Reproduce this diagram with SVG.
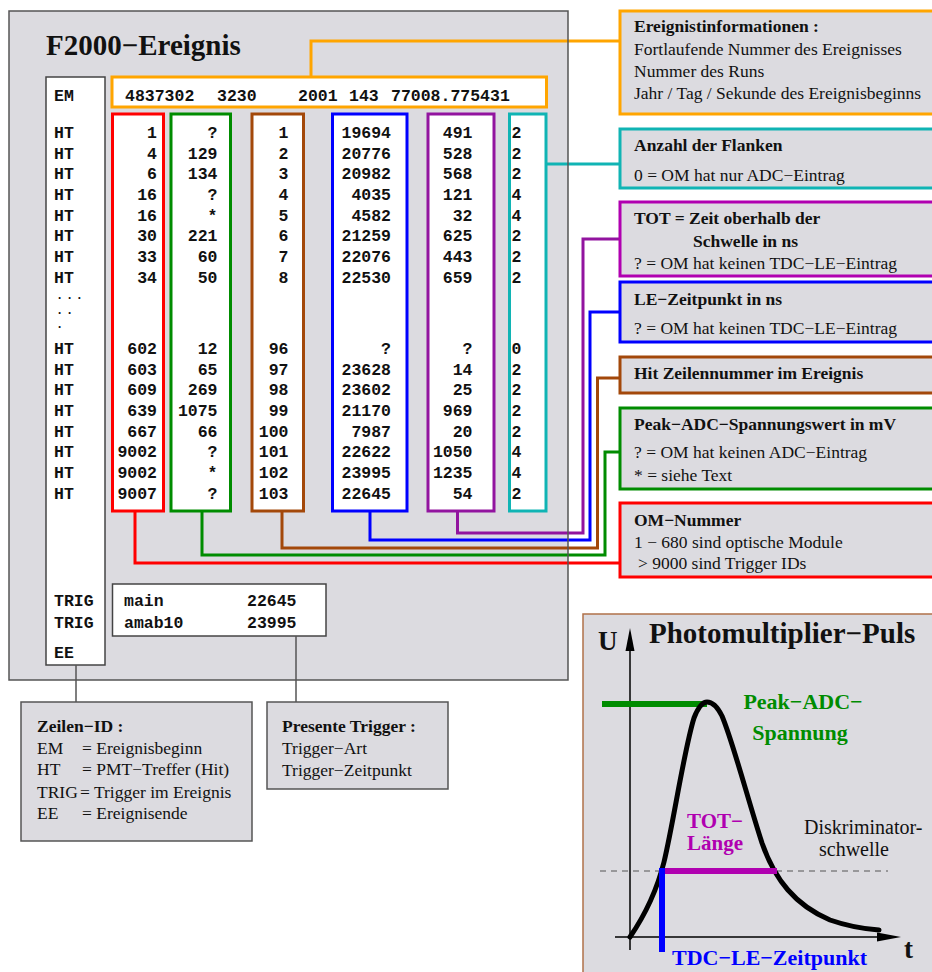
<svg xmlns="http://www.w3.org/2000/svg" width="932" height="972" viewBox="0 0 932 972">
<style>
.mono{font-family:"Liberation Mono","DejaVu Sans Mono",monospace;font-weight:bold;font-size:16.5px;fill:#111}
.dots{font-size:12px;letter-spacing:2.7px}
.serif{font-family:"Liberation Serif","Times New Roman",serif;font-size:17.5px;fill:#111}
.b{font-weight:bold}
.gray{fill:#dcdbe0}
.conn{fill:none;stroke-width:3;stroke-linejoin:miter}
.col{fill:#fff;stroke-width:3}
.info{fill:#dcdbe0;stroke-width:3}
.end{text-anchor:end}
.mid{text-anchor:middle}
</style>
<rect x="0" y="0" width="932" height="972" fill="#fff"/>

<!-- main panel -->
<g id="panel">
<rect class="gray" x="9" y="11" width="559" height="669"/>
<text class="serif b" x="46" y="55" style="font-size:29px">F2000−Ereignis</text>
</g>

<g id="row-ids">
<rect x="46" y="77" width="59" height="588" fill="#fff" stroke="#444" stroke-width="1.5"/>
<text class="mono"><tspan x="54" y="100.5">EM</tspan><tspan x="54" y="137.8">HT</tspan><tspan x="54" y="158.5">HT</tspan><tspan x="54" y="179.2">HT</tspan><tspan x="54" y="200">HT</tspan><tspan x="54" y="220.7">HT</tspan><tspan x="54" y="241.4">HT</tspan><tspan x="54" y="262.1">HT</tspan><tspan x="54" y="282.8">HT</tspan><tspan x="54" y="353.8">HT</tspan><tspan x="54" y="374.5">HT</tspan><tspan x="54" y="395.2">HT</tspan><tspan x="54" y="415.9">HT</tspan><tspan x="54" y="436.6">HT</tspan><tspan x="54" y="457.3">HT</tspan><tspan x="54" y="478">HT</tspan><tspan x="54" y="498.7">HT</tspan><tspan x="54" y="605.5">TRIG</tspan><tspan x="54" y="627.5">TRIG</tspan><tspan x="54" y="657.5">EE</tspan></text>
<text class="mono dots" x="56" y="298.5">...</text>
<text class="mono dots" x="56" y="313.5">..</text>
<text class="mono dots" x="56" y="328">.</text>
</g>

<g id="em-data">
<rect x="112" y="77" width="434.5" height="30" fill="#fff" stroke="#ffa500" stroke-width="3"/>
<text class="mono"><tspan x="125" y="100.5">4837302</tspan><tspan x="217" y="100.5">3230</tspan><tspan x="298" y="100.5">2001</tspan><tspan x="349" y="100.5">143</tspan><tspan x="391" y="100.5">77008.775431</tspan></text>
</g>

<g id="col-om">
<rect class="col" x="112.5" y="114" width="51" height="397" stroke="#ff0000"/>
<text class="mono end"><tspan x="157" y="137.8">1</tspan><tspan x="157" y="158.5">4</tspan><tspan x="157" y="179.2">6</tspan><tspan x="157" y="200">16</tspan><tspan x="157" y="220.7">16</tspan><tspan x="157" y="241.4">30</tspan><tspan x="157" y="262.1">33</tspan><tspan x="157" y="282.8">34</tspan><tspan x="157" y="353.8">602</tspan><tspan x="157" y="374.5">603</tspan><tspan x="157" y="395.2">609</tspan><tspan x="157" y="415.9">639</tspan><tspan x="157" y="436.6">667</tspan><tspan x="157" y="457.3">9002</tspan><tspan x="157" y="478">9002</tspan><tspan x="157" y="498.7">9007</tspan></text>
</g>

<g id="col-adc">
<rect class="col" x="171" y="114" width="59.5" height="397" stroke="#008c00"/>
<text class="mono end"><tspan x="217.5" y="137.8">?</tspan><tspan x="217.5" y="158.5">129</tspan><tspan x="217.5" y="179.2">134</tspan><tspan x="217.5" y="200">?</tspan><tspan x="217.5" y="220.7">*</tspan><tspan x="217.5" y="241.4">221</tspan><tspan x="217.5" y="262.1">60</tspan><tspan x="217.5" y="282.8">50</tspan><tspan x="217.5" y="353.8">12</tspan><tspan x="217.5" y="374.5">65</tspan><tspan x="217.5" y="395.2">269</tspan><tspan x="217.5" y="415.9">1075</tspan><tspan x="217.5" y="436.6">66</tspan><tspan x="217.5" y="457.3">?</tspan><tspan x="217.5" y="478">*</tspan><tspan x="217.5" y="498.7">?</tspan></text>
</g>

<g id="col-hit">
<rect class="col" x="252" y="114" width="51.5" height="397" stroke="#a3480a"/>
<text class="mono end"><tspan x="288.5" y="137.8">1</tspan><tspan x="288.5" y="158.5">2</tspan><tspan x="288.5" y="179.2">3</tspan><tspan x="288.5" y="200">4</tspan><tspan x="288.5" y="220.7">5</tspan><tspan x="288.5" y="241.4">6</tspan><tspan x="288.5" y="262.1">7</tspan><tspan x="288.5" y="282.8">8</tspan><tspan x="288.5" y="353.8">96</tspan><tspan x="288.5" y="374.5">97</tspan><tspan x="288.5" y="395.2">98</tspan><tspan x="288.5" y="415.9">99</tspan><tspan x="288.5" y="436.6">100</tspan><tspan x="288.5" y="457.3">101</tspan><tspan x="288.5" y="478">102</tspan><tspan x="288.5" y="498.7">103</tspan></text>
</g>

<g id="col-le">
<rect class="col" x="332.5" y="114" width="74.5" height="397" stroke="#0000ff"/>
<text class="mono end"><tspan x="391" y="137.8">19694</tspan><tspan x="391" y="158.5">20776</tspan><tspan x="391" y="179.2">20982</tspan><tspan x="391" y="200">4035</tspan><tspan x="391" y="220.7">4582</tspan><tspan x="391" y="241.4">21259</tspan><tspan x="391" y="262.1">22076</tspan><tspan x="391" y="282.8">22530</tspan><tspan x="391" y="353.8">?</tspan><tspan x="391" y="374.5">23628</tspan><tspan x="391" y="395.2">23602</tspan><tspan x="391" y="415.9">21170</tspan><tspan x="391" y="436.6">7987</tspan><tspan x="391" y="457.3">22622</tspan><tspan x="391" y="478">23995</tspan><tspan x="391" y="498.7">22645</tspan></text>
</g>

<g id="col-tot">
<rect class="col" x="428" y="114" width="66" height="397" stroke="#92149f"/>
<text class="mono end"><tspan x="472.5" y="137.8">491</tspan><tspan x="472.5" y="158.5">528</tspan><tspan x="472.5" y="179.2">568</tspan><tspan x="472.5" y="200">121</tspan><tspan x="472.5" y="220.7">32</tspan><tspan x="472.5" y="241.4">625</tspan><tspan x="472.5" y="262.1">443</tspan><tspan x="472.5" y="282.8">659</tspan><tspan x="472.5" y="353.8">?</tspan><tspan x="472.5" y="374.5">14</tspan><tspan x="472.5" y="395.2">25</tspan><tspan x="472.5" y="415.9">969</tspan><tspan x="472.5" y="436.6">20</tspan><tspan x="472.5" y="457.3">1050</tspan><tspan x="472.5" y="478">1235</tspan><tspan x="472.5" y="498.7">54</tspan></text>
</g>

<g id="col-edges">
<rect class="col" x="509.5" y="114" width="36.5" height="397" stroke="#10b4b4"/>
<text class="mono"><tspan x="511.5" y="137.8">2</tspan><tspan x="511.5" y="158.5">2</tspan><tspan x="511.5" y="179.2">2</tspan><tspan x="511.5" y="200">4</tspan><tspan x="511.5" y="220.7">4</tspan><tspan x="511.5" y="241.4">2</tspan><tspan x="511.5" y="262.1">2</tspan><tspan x="511.5" y="282.8">2</tspan><tspan x="511.5" y="353.8">0</tspan><tspan x="511.5" y="374.5">2</tspan><tspan x="511.5" y="395.2">2</tspan><tspan x="511.5" y="415.9">2</tspan><tspan x="511.5" y="436.6">2</tspan><tspan x="511.5" y="457.3">4</tspan><tspan x="511.5" y="478">4</tspan><tspan x="511.5" y="498.7">2</tspan></text>
</g>

<g id="trigger-data">
<rect x="112.5" y="584" width="213.5" height="52" fill="#fff" stroke="#444" stroke-width="1.5"/>
<text class="mono"><tspan x="124" y="605.5">main</tspan><tspan x="247" y="605.5">22645</tspan><tspan x="124" y="627.5">amab10</tspan><tspan x="247" y="627.5">23995</tspan></text>
</g>

<!-- connectors -->
<g id="connectors">
<path class="conn" stroke="#ffa500" d="M311,77 V41 H619"/>
<path class="conn" stroke="#10b4b4" d="M546,164 H619"/>
<path class="conn" stroke="#92149f" d="M457.5,511 V533 H583 V239 H619"/>
<path class="conn" stroke="#0000ff" d="M370,511 V540 H590 V312 H619"/>
<path class="conn" stroke="#a3480a" d="M282,511 V548 H597.5 V378 H619"/>
<path class="conn" stroke="#008c00" d="M202,511 V555 H605 V452 H619"/>
<path class="conn" stroke="#ff0000" d="M135,511 V563 H619"/>
<path fill="none" stroke="#555" stroke-width="1.5" d="M76,665 V702 M296,636 V702"/>
</g>
<rect x="9" y="11" width="559" height="669" fill="none" stroke="#555" stroke-width="1.5"/>

<!-- info boxes -->
<g id="info-event">
<rect class="info" x="620" y="11" width="330" height="103" stroke="#ffa500"/>
<text class="serif b" x="634" y="32">Ereignistinformationen :</text>
<text class="serif"><tspan x="634" y="55">Fortlaufende Nummer des Ereignisses</tspan><tspan x="634" y="77">Nummer des Runs</tspan><tspan x="634" y="99">Jahr / Tag / Sekunde des Ereignisbeginns</tspan></text>
</g>
<g id="info-edges">
<rect class="info" x="620" y="129" width="330" height="59" stroke="#10b4b4"/>
<text class="serif b" x="634" y="151">Anzahl der Flanken</text>
<text class="serif" x="634" y="181">0 = OM hat nur ADC−Eintrag</text>
</g>
<g id="info-tot">
<rect class="info" x="620" y="202" width="330" height="74" stroke="#b000b0"/>
<text class="serif b"><tspan x="634" y="224">TOT = Zeit oberhalb der</tspan><tspan x="693" y="246.5">Schwelle in ns</tspan></text>
<text class="serif" x="634" y="268.5">? = OM hat keinen TDC−LE−Eintrag</text>
</g>
<g id="info-le">
<rect class="info" x="620" y="282" width="330" height="60" stroke="#0000ff"/>
<text class="serif b" x="634" y="305">LE−Zeitpunkt in ns</text>
<text class="serif" x="634" y="334">? = OM hat keinen TDC−LE−Eintrag</text>
</g>
<g id="info-hit">
<rect class="info" x="620" y="357" width="330" height="36" stroke="#a3480a"/>
<text class="serif b" x="634" y="379">Hit Zeilennummer im Ereignis</text>
</g>
<g id="info-adc">
<rect class="info" x="620" y="408" width="330" height="81" stroke="#008c00"/>
<text class="serif b" x="634" y="430">Peak−ADC−Spannungswert in mV</text>
<text class="serif"><tspan x="634" y="458">? = OM hat keinen ADC−Eintrag</tspan><tspan x="634" y="481">* = siehe Text</tspan></text>
</g>
<g id="info-om">
<rect class="info" x="620" y="503" width="330" height="74" stroke="#ff0000"/>
<text class="serif b" x="634" y="526">OM−Nummer</text>
<text class="serif"><tspan x="634" y="548">1 − 680 sind optische Module</tspan><tspan x="638" y="569">&gt; 9000 sind Trigger IDs</tspan></text>
</g>

<!-- legends -->
<g id="legend-ids">
<rect class="gray" x="21" y="702" width="231" height="139" stroke="#555" stroke-width="1.5"/>
<text class="serif b" x="37" y="732">Zeilen−ID :</text>
<text class="serif"><tspan x="37" y="754">EM</tspan><tspan x="82" y="754">= Ereignisbeginn</tspan><tspan x="37" y="775">HT</tspan><tspan x="82" y="775">= PMT−Treffer (Hit)</tspan><tspan x="37" y="798">TRIG</tspan><tspan x="80" y="798">= Trigger im Ereignis</tspan><tspan x="37" y="819">EE</tspan><tspan x="82" y="819">= Ereignisende</tspan></text>
</g>
<g id="legend-trigger">
<rect class="gray" x="267" y="702" width="181" height="87" stroke="#555" stroke-width="1.5"/>
<text class="serif b" x="282" y="732">Presente Trigger :</text>
<text class="serif"><tspan x="282" y="754">Trigger−Art</tspan><tspan x="282" y="776">Trigger−Zeitpunkt</tspan></text>
</g>

<!-- pulse diagram -->
<g id="pulse">
<rect class="gray" x="583" y="614" width="370" height="380" stroke="#b0714a" stroke-width="1.5"/>
<text class="serif b" x="649" y="643" style="font-size:29px">Photomultiplier−Puls</text>
<text class="serif b" x="598" y="650" style="font-size:27px">U</text>
<text class="serif b" x="904" y="958" style="font-size:27px">t</text>
<line x1="630" y1="950" x2="630" y2="645" stroke="#000" stroke-width="1.5"/>
<polygon points="630,628 625.5,651 634.5,651" fill="#000"/>
<line x1="615" y1="937" x2="882" y2="937" stroke="#000" stroke-width="1.5"/>
<polygon points="901,937 877,932.5 877,941.5" fill="#000"/>
<line x1="600" y1="871" x2="888" y2="871" stroke="#555" stroke-width="1" stroke-dasharray="6,5"/>
<line x1="602" y1="704" x2="707" y2="704" stroke="#008c00" stroke-width="6"/>
<path d="M630,937 C645,915 657,890 664,862 C674,820 684,750 694,718 C699,705 703,702 707,702 C713,702 718,708 722,716 C733,742 748,800 762,843 C775,880 795,905 830,920 C850,927 865,929 879,930" fill="none" stroke="#000" stroke-width="5" stroke-linecap="round"/>
<line x1="662" y1="871" x2="777" y2="871" stroke="#b000b0" stroke-width="6"/>
<line x1="662" y1="868" x2="662" y2="952" stroke="#0000ff" stroke-width="6"/>
<text class="serif b mid" x="803" y="709" style="font-size:22px;fill:#008c00">Peak−ADC−</text>
<text class="serif b mid" x="800" y="740" style="font-size:22px;fill:#008c00">Spannung</text>
<text class="serif b mid" x="715" y="828" style="font-size:21px;fill:#b000b0">TOT−</text>
<text class="serif b mid" x="715" y="850" style="font-size:21px;fill:#b000b0">Länge</text>
<text class="serif" x="804" y="833.5" style="font-size:20px">Diskriminator-</text>
<text class="serif" x="819" y="856" style="font-size:20px">schwelle</text>
<text class="serif b" x="672" y="965" style="font-size:22px;fill:#0000ff">TDC−LE−Zeitpunkt</text>
</g>
</svg>
